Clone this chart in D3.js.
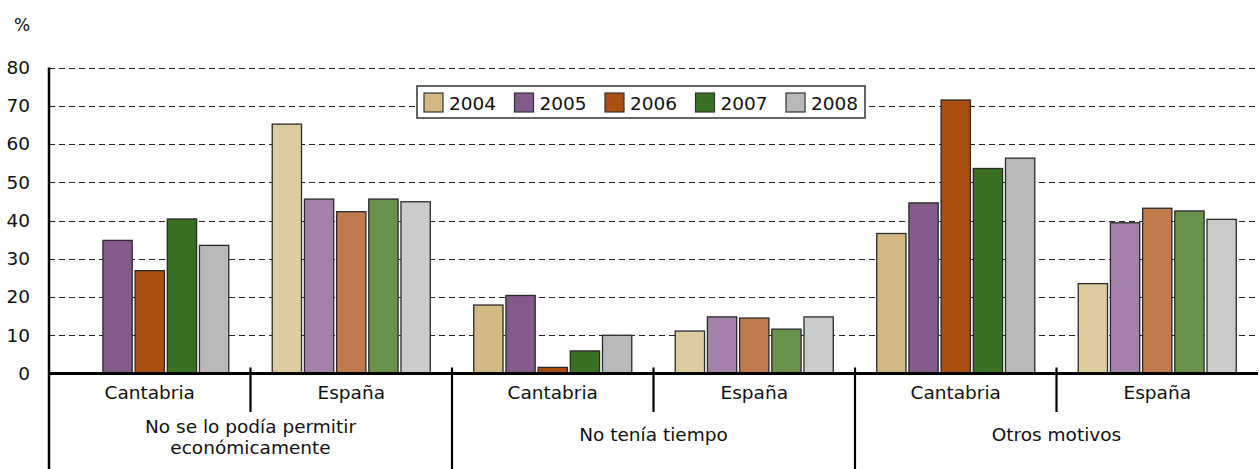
<!DOCTYPE html>
<html>
<head>
<meta charset="utf-8">
<script src="https://cdn.jsdelivr.net/npm/d3@7"></script>
<style>
  html, body { margin: 0; padding: 0; background: #fff; }
  svg { display: block; }
  text { font-family: "DejaVu Sans", Verdana, sans-serif; fill: #111; }
</style>
</head>
<body>
<svg id="chart" width="1259" height="469"></svg>
<script>
// ---- data ----
const groups = ["No se lo podía permitir económicamente", "No tenía tiempo", "Otros motivos"];
const groupLines = [["No se lo podía permitir", "económicamente"], ["No tenía tiempo"], ["Otros motivos"]];
const regions = ["Cantabria", "España"];
const years = ["2004", "2005", "2006", "2007", "2008"];
// values per year, order: [grp1 Cantabria, grp1 España, grp2 Cantabria, grp2 España, grp3 Cantabria, grp3 España]
const v2004 = [null, 65.2, 17.9, 11.1, 36.6, 23.5];
const v2005 = [34.8, 45.6, 20.4, 14.8, 44.6, 39.4];
const v2006 = [26.9, 42.3, 1.6, 14.5, 71.5, 43.2];
const v2007 = [40.4, 45.6, 5.9, 11.6, 53.6, 42.5];
const v2008 = [33.5, 44.9, 10.0, 14.8, 56.3, 40.3];
const yTicks = [0, 10, 20, 30, 40, 50, 60, 70, 80];
const colorsCantabria = ["#D2B983", "#835A8A", "#AA4E11", "#3A7023", "#B8B9BA"];
const colorsEspana = ["#DDCCA0", "#A381A8", "#BF7B4C", "#6A924C", "#CACBCC"];

const series = [v2004, v2005, v2006, v2007, v2008];

(function () {
// ---- layout ----
const svg = d3.select("#chart");
const mLeft = 49, mRight = 1258, mTop = 67.5, base = 373.5, mBottom = 469;
const fs = "18.5px";

const subKeys = [];
groups.forEach((g, gi) => regions.forEach((r, ri) => subKeys.push(gi + "|" + ri)));

const x0 = d3.scaleBand().domain(subKeys).range([mLeft, mRight]).padding(0);
const x1 = d3.scaleBand().domain(years).range([0, x0.bandwidth()]).paddingInner(0.09).paddingOuter(0.675);
const y = d3.scaleLinear().domain([0, 80]).range([base, mTop]);

// gridlines
svg.append("g").selectAll("line").data(yTicks.filter(t => t > 0)).join("line")
  .attr("x1", mLeft).attr("x2", mRight)
  .attr("y1", d => Math.round(y(d)) + 0.5).attr("y2", d => Math.round(y(d)) + 0.5)
  .attr("stroke", "#222").attr("stroke-width", 1.2).attr("stroke-dasharray", "6,4");

// bars
const barData = [];
subKeys.forEach((k, si) => {
  const ri = +k.split("|")[1];
  years.forEach((yr, yi) => {
    const v = series[yi][si];
    if (v != null) barData.push({ k, yr, v, color: ri === 0 ? colorsCantabria[yi] : colorsEspana[yi] });
  });
});
svg.append("g").selectAll("rect").data(barData).join("rect")
  .attr("x", d => x0(d.k) + x1(d.yr))
  .attr("width", x1.bandwidth())
  .attr("y", d => y(d.v))
  .attr("height", d => base - y(d.v))
  .attr("fill", d => d.color)
  .attr("stroke", "#2a2a2a").attr("stroke-width", 1.3);

// y axis
const yAxis = d3.axisLeft(y).tickValues(yTicks).tickSize(0).tickPadding(19).tickFormat(d3.format("d"));
const ya = svg.append("g").attr("transform", `translate(${mLeft},0)`).call(yAxis);
ya.select(".domain").remove();
ya.selectAll("text").style("font-size", fs).style("font-family", "DejaVu Sans").attr("fill", "#111");

svg.append("line").attr("x1", mLeft).attr("x2", mLeft).attr("y1", mTop).attr("y2", mBottom)
  .attr("stroke", "#000").attr("stroke-width", 2.5);
svg.append("line").attr("x1", mLeft).attr("x2", mRight).attr("y1", base).attr("y2", base)
  .attr("stroke", "#000").attr("stroke-width", 3);

// separators
subKeys.forEach((k, si) => {
  if (si === 0) return;
  const xs = x0(k);
  const major = si % 2 === 0;
  svg.append("line").attr("x1", xs).attr("x2", xs).attr("y1", base - 6).attr("y2", major ? mBottom : 412)
    .attr("stroke", "#000").attr("stroke-width", 2.2);
});

// region labels
svg.append("g").selectAll("text").data(subKeys).join("text")
  .attr("x", d => x0(d) + x0.bandwidth() / 2)
  .attr("y", 399)
  .attr("text-anchor", "middle")
  .style("font-size", fs)
  .text(d => regions[+d.split("|")[1]]);

// group labels
groups.forEach((g, gi) => {
  const a = x0(gi + "|0"), b = x0(gi + "|1") + x0.bandwidth();
  const cx = (a + b) / 2;
  const lines = groupLines[gi];
  const t = svg.append("text").attr("text-anchor", "middle").style("font-size", fs);
  const y0 = lines.length === 1 ? 441 : 433;
  lines.forEach((ln, li) => t.append("tspan").attr("x", cx).attr("y", y0 + li * 21).text(ln));
});

// % label
svg.append("text").attr("x", 22).attr("y", 31).attr("text-anchor", "middle").style("font-size", "17px").text("%");

// legend
const lg = svg.append("g");
lg.append("rect").attr("x", 417).attr("y", 86).attr("width", 448).attr("height", 32)
  .attr("fill", "#fff").attr("stroke", "#333").attr("stroke-width", 1.5);
const item = lg.selectAll("g.item").data(years).join("g").attr("class", "item")
  .attr("transform", (d, i) => `translate(${424 + i * 90.5},0)`);
item.append("rect").attr("x", 0).attr("y", 93).attr("width", 19).attr("height", 19)
  .attr("fill", (d, i) => colorsCantabria[i]).attr("stroke", "#333").attr("stroke-width", 1.2);
item.append("text").attr("x", 25).attr("y", 110).style("font-size", fs).text(d => d);
})();
</script>
</body>
</html>
